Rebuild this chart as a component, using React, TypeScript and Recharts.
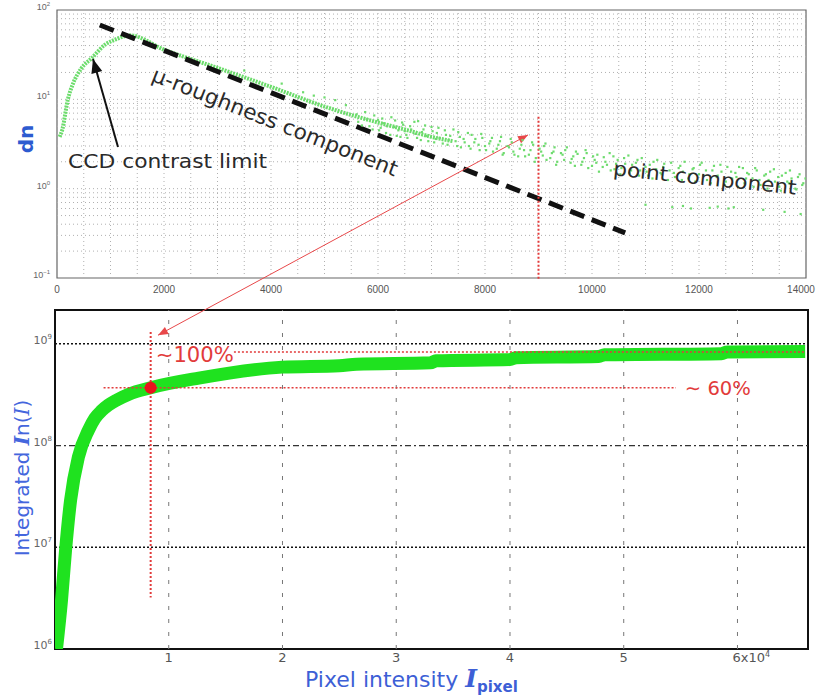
import React from "react";
import {
  ComposedChart,
  Label,
  Line,
  ReferenceArea,
  ReferenceDot,
  ReferenceLine,
  Scatter,
  XAxis,
  YAxis,
} from "recharts";

// upper panel: dn histogram vs pixel intensity (log y)
const peakX = [50, 100, 200, 300, 450, 650, 900, 1100, 1364, 2000, 3000, 4000, 5000, 6000, 6500, 7000, 7400];
const peakY = [3.8, 4.6, 9.8, 15, 22, 29, 41, 47, 52, 36, 22.5, 13.8, 8.3, 5.5, 4.6, 3.8, 3.4];

const spreadX = [
  3500, 4200, 4600, 4800, 5000, 5200, 5400,
  5600, 5700, 5800, 5900, 6000, 6050, 6100, 6150, 6250, 6300, 6350, 6450, 6500, 6550, 6600, 6700,
  6750, 6800, 6850, 6900, 7000, 7050, 7100, 7150, 7250, 7300, 7350, 7450, 7500, 7550, 7600, 7700,
  7750, 7800, 7900, 7950, 8000, 8100, 8150, 8250, 8300, 8350, 8450, 8500, 8550, 8650, 8700, 8750,
  8850, 8900, 8950, 9050, 9100, 9150, 9250, 9300, 9350, 9450, 9500, 9600, 9650, 9700, 9800, 9850,
  9900, 10000, 10050, 10100, 10200, 10250, 10350, 10400, 10450, 10550, 10600, 10700, 10750, 10850,
  10900, 11000, 11050, 11150, 11200, 11300, 11350, 11450, 11500, 11550, 11650, 11700, 11800, 11850,
  11900, 12000, 12050, 12150, 12200, 12250, 12350, 12400, 12500, 12550, 12600, 12700, 12750, 12850,
  12900, 13000, 13050, 13150, 13250, 13300, 13400, 13500, 13550, 13650, 13700, 13800, 13850, 13900, 13950,
  5630, 5760, 5840, 5930, 6020, 6080, 6170, 6230, 6320, 6380, 6420, 6470, 6530, 6620, 6680, 6730,
  6820, 6880, 6940, 7020, 7080, 7130, 7210, 7270, 7320, 7410, 7480, 7530, 7620, 7680, 7730, 7820,
  7880, 7930, 8020, 8080, 8130, 8220, 8280, 8330, 8420, 8480, 8530, 8620, 8680, 8730, 8820, 8880,
  8930, 9020, 9080, 9130, 9220, 9280, 9330, 9420, 9480, 9530, 9620, 9680, 9730, 9820, 9880, 9930,
  10020, 10080, 10130, 10220, 10280, 10330, 10420, 10480, 10530, 10620, 10680, 10730, 10820, 10880,
  10930, 11020, 11080, 11130, 11220, 11280, 11330, 11420, 11480, 11530, 11620, 11680, 11730, 11820,
  11880, 11930, 12020, 12080, 12130, 12220, 12280, 12330, 12420, 12480, 12530, 12620, 12680, 12730,
  12820, 12880, 12930, 13020, 13080, 13130, 13220, 13280, 13330, 13420, 13480, 13530, 13620, 13680,
  13730, 13820, 13880, 13930, 13990,
  11000, 11700, 12350, 12650, 13200, 13600,
];
const spreadY = [
  21, 15, 12, 11, 10.5, 9.8, 8.6,
  6.8, 5.1, 6.0, 4.6, 5.9, 4.8, 5.4, 4.2, 6.3, 4.9, 3.9, 5.5, 4.4, 3.7, 5.0, 4.1,
  5.7, 3.5, 4.6, 3.9, 4.9, 3.3, 4.2, 3.7, 4.5, 3.1, 3.9, 3.4, 4.3, 2.9, 3.6, 3.0,
  4.0, 3.3, 2.7, 3.7, 3.0, 3.4, 2.6, 3.1, 3.8, 2.5, 2.9, 3.3, 2.4, 2.8, 3.5, 2.3,
  2.7, 3.1, 2.2, 2.6, 3.0, 2.1, 2.5, 2.9, 2.0, 2.4, 2.7, 1.95, 2.3, 2.6, 1.85, 2.2,
  2.5, 1.8, 2.1, 2.4, 1.75, 2.0, 1.6, 2.3, 1.9, 1.7, 2.2, 1.5, 1.85, 2.1,
  1.6, 1.75, 1.4, 2.0, 1.65, 1.45, 1.9, 1.6, 0.62, 1.35, 1.8, 1.55, 1.3, 0.6,
  1.7, 1.45, 1.95, 1.25, 0.61, 1.6, 1.4, 1.85, 1.2, 0.6, 1.55, 1.35, 1.75, 1.15,
  1.5, 1.3, 1.7, 1.1, 1.45, 1.25, 1.65, 1.05, 1.4, 1.2, 1.6, 1.0, 1.35, 0.52, 1.15,
  5.6, 7.2, 5.0, 6.6, 4.5, 6.1, 5.0, 4.0, 5.8, 4.5, 3.8, 5.2, 4.0, 4.6, 5.6, 3.7,
  4.3, 5.1, 3.4, 4.4, 3.6, 4.8, 3.2, 4.0, 3.5, 4.6, 3.0, 3.8, 3.3, 4.2, 2.8, 3.6,
  3.1, 4.1, 2.7, 3.2, 3.7, 2.8, 3.4, 2.4, 3.0, 3.6, 2.6, 2.3, 3.1, 2.7, 2.4, 3.3,
  2.0, 2.8, 2.35, 3.2, 2.2, 2.6, 1.85, 2.5, 2.1, 2.9, 2.15, 1.8, 2.45, 2.0, 2.7, 1.7,
  2.3, 1.95, 1.55, 2.25, 1.85, 2.5, 1.65, 2.1, 1.45, 1.9, 2.35, 1.6, 1.95, 1.4,
  2.2, 1.55, 1.85, 1.3, 2.1, 1.5, 1.75, 1.25, 1.95, 1.5, 1.7, 1.25, 2.0, 1.45,
  1.65, 1.2, 1.85, 1.4, 1.6, 1.15, 1.8, 1.35, 1.55, 1.1, 1.75, 1.3, 1.5, 1.05,
  1.7, 1.3, 1.45, 1.05, 1.6, 1.25, 1.4, 1.0, 1.55, 1.2, 1.35, 0.95, 1.5, 1.15,
  1.3, 0.98, 1.45, 1.1, 1.3,
  0.66, 0.64, 0.63, 0.62, 0.58, 0.55,
];

const slopeX = [800, 10620];
const slopeY = [68, 0.32];

const upperTicksX = [0, 2000, 4000, 6000, 8000, 10000, 12000, 14000];
const upperTicksY = [0.1, 1, 10, 100];
const upperGridX = [
  500, 1000, 1500, 2000, 2500, 3000, 3500, 4000, 4500, 5000, 5500, 6000, 6500, 7000,
  7500, 8000, 8500, 9000, 9500, 10000, 10500, 11000, 11500, 12000, 12500, 13000, 13500,
];
const upperGridY = [
  0.2, 0.3, 0.4, 0.5, 0.6, 0.7, 0.8, 0.9, 1, 2, 3, 4, 5, 6, 7, 8, 9, 10,
  20, 30, 40, 50, 60, 70, 80, 90,
];

// lower panel: integrated In(I) vs pixel intensity
const cumX = [
  130, 570, 925, 1370, 2070, 2950, 3500, 4100, 4700, 5420, 6500, 8410, 12640, 19960, 25000, 26500,
  33000, 33500, 40000, 40500, 47800, 48300, 58600, 59100, 65950,
];
const cumY = [
  1.0e6, 3.0e6, 9.3e6, 2.9e7, 7.8e7, 1.42e8, 1.85e8, 2.2e8, 2.5e8, 2.8e8, 3.2e8, 3.7e8, 4.6e8, 5.9e8,
  6.1e8, 6.3e8, 6.5e8, 6.8e8, 7.0e8, 7.3e8, 7.5e8, 7.8e8, 8.0e8, 8.3e8, 8.4e8,
];

const lowerTicksX = [10000, 20000, 30000, 40000, 50000, 60000];
const lowerTickLabels = ["1", "2", "3", "4", "5", "6x10"];
const lowerTicksY = [1e6, 1e7, 1e8, 1e9];

const markX = 8410;
const markY = 3.7e8;
const fullY = 8.3e8;

const W = 821;
const RED = "#e23b3b";
const SANS = "DejaVu Sans";

function arrow(color: string, width: number, head: number, both: boolean) {
  return (p: any) => {
    const { x1, y1, x2, y2 } = p;
    const a = Math.atan2(y2 - y1, x2 - x1);
    const tip = (x: number, y: number, ang: number) => {
      const bx = x - head * Math.cos(ang);
      const by = y - head * Math.sin(ang);
      const nx = -Math.sin(ang) * head * 0.4;
      const ny = Math.cos(ang) * head * 0.4;
      return `${x},${y} ${bx + nx},${by + ny} ${bx - nx},${by - ny}`;
    };
    return (
      <g>
        <line x1={x1} y1={y1} x2={x2} y2={y2} stroke={color} strokeWidth={width} />
        <polygon points={tip(x2, y2, a)} fill={color} />
        {both && <polygon points={tip(x1, y1, a + Math.PI)} fill={color} />}
      </g>
    );
  };
}

const note = (txt: string, size: number, len: number, angle: number, color: string, anchor = "middle") =>
  (p: any) => (
    <text
      x={p.cx}
      y={p.cy}
      transform={`rotate(${angle} ${p.cx} ${p.cy})`}
      textAnchor={anchor}
      dominantBaseline={anchor === "middle" ? "central" : "auto"}
      fontSize={size}
      fontFamily={SANS}
      fill={color}
      textLength={len}
      lengthAdjust="spacingAndGlyphs"
    >
      {txt}
    </text>
  );

const decade = (v: number) => {
  const e = Math.round(Math.log10(v));
  return e < 0 ? `\u2212${-e}` : `${e}`;
};

const innerTick = (len: number, color: string) => (p: any) => (
  <line x1={p.x} x2={p.x} y1={p.y} y2={p.y + len} stroke={color} strokeWidth={1.5} />
);

function UpperPanel() {
  const peak = peakX.map((x, i) => ({ x, y: peakY[i] }));
  const spread = spreadX.map((x, i) => ({ x, y: spreadY[i] }));
  const slope = slopeX.map((x, i) => ({ x, y: slopeY[i] }));

  return (
    <ComposedChart width={W} height={698} margin={{ top: 10, right: 15, bottom: 400, left: 10 }}>
      <XAxis
        dataKey="x"
        type="number"
        domain={[0, 14000]}
        ticks={upperTicksX}
        allowDataOverflow
        height={20}
        tickSize={5}
        tickMargin={0}
        tickLine={false}
        axisLine={false}
        tick={(p: any) => (
          <text x={p.x} y={p.y} dy={10} textAnchor="middle" fontSize={10} fill="#555" fontFamily="Liberation Sans">
            {p.payload.value}
          </text>
        )}
      />
      <XAxis
        xAxisId="top"
        orientation="top"
        dataKey="x"
        type="number"
        domain={[0, 14000]}
        ticks={upperTicksX}
        height={0}
        tickSize={0}
        tickMargin={0}
        tickLine={false}
        axisLine={false}
        tick={innerTick(5, "#444")}
      />
      <YAxis
        dataKey="y"
        type="number"
        scale="log"
        domain={[0.1, 100]}
        ticks={upperTicksY}
        allowDataOverflow
        width={47}
        tickSize={4}
        tickMargin={3}
        tickLine={false}
        axisLine={false}
        tick={(p: any) => (
          <text x={p.x} y={p.y} textAnchor="end" fontSize={9} fill="#666" fontFamily="Liberation Sans">
            10<tspan dy={-4} fontSize={6}>{decade(p.payload.value)}</tspan>
          </text>
        )}
      >
        <Label
          content={(p: any) => (
            <text
              x={p.viewBox.x + 16}
              y={139}
              transform={`rotate(-90 ${p.viewBox.x + 16} 139)`}
              textAnchor="middle"
              dominantBaseline="central"
              fontSize={20}
              fontWeight="bold"
              fontFamily={SANS}
              fill="#2d5bd0"
            >
              dn
            </text>
          )}
        />
      </YAxis>

      {upperGridX.map((x) => (
        <ReferenceLine key={`gx${x}`} x={x} stroke="#b0b0b0" strokeDasharray="1 3" strokeWidth={1} />
      ))}
      {upperGridY.map((y) => (
        <ReferenceLine key={`gy${y}`} y={y} stroke="#b0b0b0" strokeDasharray="1 3" strokeWidth={1} />
      ))}

      <Line data={peak} dataKey="y" type="monotone" stroke="#6cdc6c" strokeWidth={4} strokeDasharray="2 1" dot={false} isAnimationActive={false} />
      <Scatter
        data={spread}
        dataKey="y"
        fill="#6edb6e"
        isAnimationActive={false}
        shape={(p: any) => <rect x={p.cx - 1.1} y={p.cy - 1.1} width={2.2} height={2.2} fill="#6edb6e" />}
      />
      <Line data={slope} dataKey="y" type="linear" stroke="#111" strokeWidth={5} strokeDasharray="15 8" dot={false} isAnimationActive={false} />

      <ReferenceArea x1={0} x2={14000} y1={0.1} y2={100} fill="none" stroke="#666" strokeWidth={1.2} ifOverflow="visible" />

      <ReferenceLine
        segment={[{ x: 9000, y: 6.4 }, { x: 9000, y: 0.095 }]}
        stroke={RED}
        strokeWidth={2}
        strokeDasharray="2 2"
        ifOverflow="visible"
      />
      <ReferenceLine
        segment={[{ x: 1888, y: 0.0229 }, { x: 8804, y: 4.0 }]}
        ifOverflow="visible"
        shape={arrow("#e8484a", 1, 10, true)}
      />
      <ReferenceLine
        segment={[{ x: 1140, y: 2.92 }, { x: 673, y: 28.3 }]}
        ifOverflow="visible"
        shape={arrow("#111", 2, 14, false)}
      />

      <ReferenceDot x={4075} y={5.57} ifOverflow="visible" shape={note("\u03bc-roughness component", 21, 262, 21.5, "#2a2a2a")} />
      <ReferenceDot x={206} y={1.7} ifOverflow="visible" shape={note("CCD contrast limit", 20, 199, 0, "#2a2a2a", "start")} />
      <ReferenceDot x={12112} y={1.316} ifOverflow="visible" shape={note("point component", 20, 184, 6, "#2a2a2a")} />
    </ComposedChart>
  );
}

function LowerPanel() {
  const cum = cumX.map((x, i) => ({ x, y: cumY[i] }));

  return (
    <ComposedChart width={W} height={398} margin={{ top: 10, right: 13, bottom: 19, left: 10 }}>
      <XAxis
        dataKey="x"
        type="number"
        domain={[0, 66200]}
        ticks={lowerTicksX}
        allowDataOverflow
        height={30}
        tickSize={0}
        tickMargin={2}
        tickLine={false}
        axisLine={false}
        tick={(p: any) => {
          const i = lowerTicksX.indexOf(p.payload.value);
          const last = i === lowerTicksX.length - 1;
          return (
            <text x={last ? p.x - 5 : p.x} y={p.y} dy={11} textAnchor={last ? "start" : "middle"} fontSize={13} fill="#555" fontFamily={SANS}>
              {lowerTickLabels[i]}
              {last && <tspan dy={-5} fontSize={8}>4</tspan>}
            </text>
          );
        }}
      >
        <Label
          content={(p: any) => (
            <text x={305} y={p.viewBox.y + 38} fontSize={22} fontFamily={SANS} fill="#3d5fd6">
              Pixel intensity{" "}
              <tspan fontFamily="DejaVu Serif" fontStyle="italic" fontWeight="bold" fontSize={25}>I</tspan>
              <tspan fontWeight="bold" fontSize={15} dy={5}>pixel</tspan>
            </text>
          )}
        />
      </XAxis>
      <XAxis
        xAxisId="top"
        orientation="top"
        dataKey="x"
        type="number"
        domain={[0, 66200]}
        ticks={lowerTicksX}
        height={0}
        tickSize={0}
        tickMargin={0}
        tickLine={false}
        axisLine={false}
        tick={innerTick(10, "#222")}
      />
      <YAxis
        dataKey="y"
        type="number"
        scale="log"
        domain={[1e6, 2.15e9]}
        ticks={lowerTicksY}
        allowDataOverflow
        width={45}
        tickSize={0}
        tickMargin={3}
        tickLine={false}
        axisLine={false}
        tick={(p: any) => (
          <text x={p.x} y={p.y} textAnchor="end" fontSize={11} fill="#666" fontFamily={SANS}>
            10<tspan dy={-5} fontSize={7}>{decade(p.payload.value)}</tspan>
          </text>
        )}
      >
        <Label
          content={() => (
            <text
              x={22}
              y={178}
              transform={`rotate(-90 22 178)`}
              textAnchor="middle"
              dominantBaseline="central"
              fontSize={20}
              fontFamily={SANS}
              fill="#4466dd"
            >
              Integrated{" "}
              <tspan fontFamily="DejaVu Serif" fontStyle="italic" fontWeight="bold">I</tspan>
              n(
              <tspan fontFamily="DejaVu Serif" fontStyle="italic">I</tspan>)
            </text>
          )}
        />
      </YAxis>

      {lowerTicksX.map((x) => (
        <ReferenceLine key={x} x={x} stroke="#777" strokeDasharray="4 9" strokeWidth={1} />
      ))}
      <ReferenceLine y={1e9} stroke="#111" strokeDasharray="2 2" strokeWidth={1.5} />
      <ReferenceLine y={1e7} stroke="#111" strokeDasharray="2 2" strokeWidth={1.5} />
      <ReferenceLine y={1e8} stroke="#333" strokeDasharray="6 3 2 3" strokeWidth={1.2} />

      <Line data={cum} dataKey="y" type="monotone" stroke="#1fe21f" strokeWidth={13} dot={false} isAnimationActive={false} />

      <ReferenceLine
        segment={[{ x: markX, y: 1.31e9 }, { x: markX, y: 3.2e6 }]}
        stroke={RED}
        strokeWidth={2}
        strokeDasharray="2 2"
      />
      <ReferenceLine segment={[{ x: 15730, y: fullY }, { x: 65950, y: fullY }]} stroke={RED} strokeWidth={1.5} strokeDasharray="2 2" />
      <ReferenceLine segment={[{ x: 4270, y: markY }, { x: 54590, y: markY }]} stroke={RED} strokeWidth={1.5} strokeDasharray="2 2" />
      <ReferenceDot x={markX} y={markY} r={6} fill="#e8141c" stroke="none" />
      <ReferenceDot x={8855} y={6.65e8} ifOverflow="visible" shape={note("\u223c100%", 21, 78, 0, RED, "start")} />
      <ReferenceDot x={55370} y={3.15e8} ifOverflow="visible" shape={note("\u223c 60%", 20, 66, 0, RED, "start")} />

      <ReferenceArea x1={0} x2={66200} y1={1e6} y2={2.15e9} fill="none" stroke="#111" strokeWidth={2} ifOverflow="visible" />
    </ComposedChart>
  );
}

export default function App() {
  return (
    <div style={{ position: "absolute", left: 0, top: 0, width: W, height: 698, background: "#fff" }}>
      <div style={{ position: "absolute", left: 0, top: 300 }}>
        <LowerPanel />
      </div>
      <div style={{ position: "absolute", left: 0, top: 0, pointerEvents: "none", zIndex: 1 }}>
        <UpperPanel />
      </div>
    </div>
  );
}
